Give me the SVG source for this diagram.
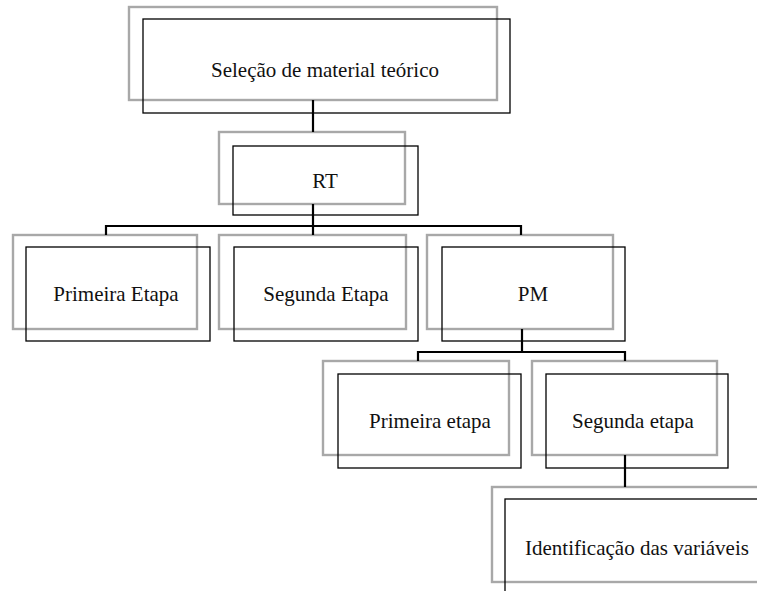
<svg xmlns="http://www.w3.org/2000/svg" width="757" height="591" viewBox="0 0 757 591">
<style>
.bg{fill:#ffffff}
.g{fill:none;stroke:#a8a8a8;stroke-width:2.4}
.k{fill:none;stroke:#000;stroke-width:1.3}
.c{fill:none;stroke:#000;stroke-width:2.2}
text{font-family:"Liberation Serif","Times New Roman","DejaVu Serif",serif;font-size:21px;fill:#111;text-anchor:middle}
</style>
<rect class="bg" x="0" y="0" width="757" height="591"/>
<g id="n-selecao">
<rect class="g" x="129" y="7" width="368" height="93"/>
<rect class="k" x="143" y="19" width="367" height="94"/>
<text x="325" y="77">Seleção de material teórico</text>
</g>
<g id="n-rt">
<rect class="g" x="219" y="132" width="186" height="72"/>
<rect class="k" x="233" y="146" width="185" height="69"/>
<text x="325" y="188">RT</text>
</g>
<g id="n-primeira-etapa">
<rect class="g" x="13" y="235" width="184" height="94"/>
<rect class="k" x="26" y="247" width="184" height="94"/>
<text x="116" y="301">Primeira Etapa</text>
</g>
<g id="n-segunda-etapa">
<rect class="g" x="219" y="235" width="187" height="94"/>
<rect class="k" x="234" y="247" width="184" height="94"/>
<text x="326" y="301">Segunda Etapa</text>
</g>
<g id="n-pm">
<rect class="g" x="427" y="235" width="186" height="94"/>
<rect class="k" x="442" y="247" width="183" height="94"/>
<text x="533" y="301">PM</text>
</g>
<g id="n-primeira-etapa-pm">
<rect class="g" x="323" y="361" width="186" height="94"/>
<rect class="k" x="338" y="374" width="183" height="94"/>
<text x="430" y="428">Primeira etapa</text>
</g>
<g id="n-segunda-etapa-pm">
<rect class="g" x="532" y="361" width="185" height="94"/>
<rect class="k" x="546" y="374" width="182" height="94"/>
<text x="633" y="428">Segunda etapa</text>
</g>
<g id="n-identificacao">
<rect class="g" x="492" y="487" width="270" height="95"/>
<rect class="k" x="505" y="499" width="270" height="100"/>
<text x="637" y="555">Identificação das variáveis</text>
</g>
<g id="connectors">
<path class="c" d="M313 100V132"/>
<path class="c" d="M313 204V226M106 235V226H521V235M313 226V235"/>
<path class="c" d="M522 329V352M418 361V352H625V361"/>
<path class="c" d="M625 455V487"/>
</g>
</svg>
